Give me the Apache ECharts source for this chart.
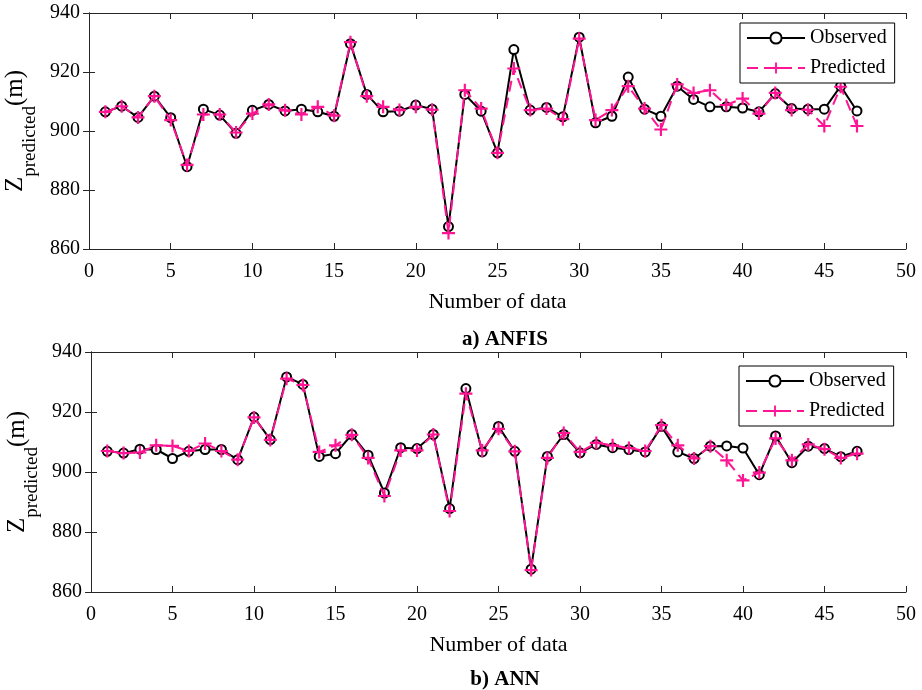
<!DOCTYPE html>
<html>
<head>
<meta charset="utf-8">
<script src="https://cdn.jsdelivr.net/npm/echarts@6/dist/echarts.min.js"></script>
<style>
  html, body { margin: 0; padding: 0; background: #fff; }
  #chart { width: 922px; height: 690px; }
</style>
</head>
<body>
<div id="chart"></div>
<script>
// Sample index 1..47
const sampleIndex = Array.from({ length: 47 }, (_, i) => i + 1);

// a) ANFIS
const anfisObserved = [
  906.5, 908.4, 904.6, 911.8, 904.5, 887.9, 907.4, 905.4, 899.2, 907.0,
  909.0, 906.8, 907.4, 906.5, 905.0, 929.6, 912.4, 906.5, 906.7, 908.8,
  907.4, 867.6, 912.4, 906.7, 892.6, 927.6, 907.1, 908.0, 904.8, 931.8,
  902.8, 905.0, 918.3, 907.4, 905.0, 915.2, 910.7, 908.2, 908.2, 907.8,
  906.5, 912.7, 907.6, 907.4, 907.4, 915.2, 906.8
];
const anfisPredicted = [
  906.5, 908.4, 904.6, 911.8, 903.7, 888.5, 905.6, 905.6, 899.5, 905.9,
  909.0, 907.0, 905.6, 908.2, 905.2, 930.1, 911.8, 908.2, 907.1, 908.2,
  907.2, 865.4, 913.8, 907.6, 892.6, 921.2, 907.1, 907.6, 904.0, 931.3,
  903.7, 907.1, 915.2, 907.6, 900.5, 915.8, 912.9, 913.8, 908.8, 911.0,
  905.9, 912.9, 907.1, 907.2, 901.7, 915.0, 901.7
];

// b) ANN
const annObserved = [
  906.9, 906.3, 907.6, 907.5, 904.5, 906.9, 907.5, 907.5, 904.1, 918.3,
  910.8, 931.7, 929.2, 905.2, 906.1, 912.5, 905.6, 893.0, 908.1, 907.8,
  912.5, 887.8, 927.8, 906.7, 915.2, 906.9, 867.6, 905.2, 912.5, 906.4,
  909.2, 908.1, 907.5, 906.7, 915.2, 906.7, 904.5, 908.6, 908.7, 908.0,
  899.1, 912.0, 903.1, 908.6, 907.8, 905.1, 906.9
];
const annPredicted = [
  907.0, 906.3, 906.5, 908.9, 908.7, 907.0, 909.5, 907.0, 904.1, 918.2,
  910.7, 931.1, 929.0, 906.7, 908.9, 912.4, 904.7, 892.0, 907.2, 907.2,
  912.5, 887.0, 926.1, 907.2, 914.4, 906.9, 867.3, 904.7, 913.0, 906.7,
  909.7, 908.9, 908.0, 907.0, 915.6, 908.9, 904.5, 908.6, 903.9, 897.2,
  899.8, 911.2, 903.9, 909.2, 907.6, 904.7, 906.1
];

// Axis ranges and captions
const xTicks = { min: 0, max: 50, interval: 5 };
const yTicks = { min: 860, max: 940, interval: 20 };
const xTitle = 'Number of data';
const panelTitles = ['a) ANFIS', 'b) ANN'];
const seriesNames = ['Observed', 'Predicted'];

const FONT = '"Liberation Serif", "Times New Roman", serif';
const PINK = '#ff1493';
const PLUS = 'path://M5,0H7V5H12V7H7V12H5V7H0V5H5Z';

const pairs = vals => vals.map((v, i) => [sampleIndex[i], v]);

const grids = [
  { left: 89, top: 13, width: 817, height: 236, containLabel: false, outerBoundsMode: 'none' },
  { left: 91, top: 352, width: 815, height: 240, containLabel: false, outerBoundsMode: 'none' }
];

const axisLineStyle = { show: true, lineStyle: { color: '#262626', width: 1 } };
const tickStyle = { show: true, inside: true, length: 6, lineStyle: { color: '#262626' } };

const xAxes = [], yAxes = [], series = [], legends = [], titles = [];

grids.forEach((g, gi) => {
  // bottom x axis with labels
  xAxes.push({
    type: 'value', gridIndex: gi, position: 'bottom',
    min: xTicks.min, max: xTicks.max, interval: xTicks.interval,
    axisLine: axisLineStyle, axisTick: tickStyle,
    splitLine: { show: false },
    axisLabel: { color: '#000', fontFamily: FONT, fontSize: 20, margin: 13 },
    name: xTitle, nameLocation: 'middle', nameGap: 42,
    nameTextStyle: { color: '#000', fontFamily: FONT, fontSize: 22 }
  });
  // top frame edge with ticks
  xAxes.push({
    type: 'value', gridIndex: gi, position: 'top',
    min: xTicks.min, max: xTicks.max, interval: xTicks.interval,
    axisLine: axisLineStyle, axisTick: tickStyle,
    splitLine: { show: false }, axisLabel: { show: false }
  });
  // left y axis with labels
  yAxes.push({
    type: 'value', gridIndex: gi, position: 'left',
    min: yTicks.min, max: yTicks.max, interval: yTicks.interval,
    axisLine: axisLineStyle, axisTick: tickStyle,
    splitLine: { show: false },
    axisLabel: { color: '#000', fontFamily: FONT, fontSize: 20, margin: 9 },
    name: '{z|Z}{s|predicted}{m|(m)}',
    nameLocation: 'middle', nameGap: 45, nameRotate: 90,
    nameTextStyle: {
      color: '#000', fontFamily: FONT,
      rich: {
        z: { fontFamily: FONT, fontSize: 25, color: '#000', lineHeight: 36, verticalAlign: 'top' },
        s: { fontFamily: FONT, fontSize: 19, color: '#000', lineHeight: 36, verticalAlign: 'bottom', padding: [14, 0, 0, 0] },
        m: { fontFamily: FONT, fontSize: 25, color: '#000', lineHeight: 36, verticalAlign: 'top' }
      }
    }
  });
  // right frame edge with ticks
  yAxes.push({
    type: 'value', gridIndex: gi, position: 'right',
    min: yTicks.min, max: yTicks.max, interval: yTicks.interval,
    axisLine: axisLineStyle, axisTick: tickStyle,
    splitLine: { show: false }, axisLabel: { show: false }
  });

  const obs = gi === 0 ? anfisObserved : annObserved;
  const pred = gi === 0 ? anfisPredicted : annPredicted;
  series.push({
    name: seriesNames[0], type: 'line',
    xAxisIndex: gi * 2, yAxisIndex: gi * 2,
    data: pairs(obs),
    symbol: 'emptyCircle', symbolSize: 9, showAllSymbol: true,
    lineStyle: { color: '#000', width: 2 },
    itemStyle: { color: '#000', borderColor: '#000', borderWidth: 1.6 },
    animation: false, z: 2
  });
  series.push({
    name: seriesNames[1], type: 'line',
    xAxisIndex: gi * 2, yAxisIndex: gi * 2,
    data: pairs(pred),
    symbol: PLUS, symbolSize: 13, showAllSymbol: true,
    lineStyle: { color: PINK, width: 2, type: [11, 6] },
    itemStyle: { color: PINK, borderWidth: 0 },
    animation: false, z: 3
  });

  legends.push({
    data: seriesNames,
    orient: 'vertical',
    left: gi === 0 ? 740 : 739,
    top: gi === 0 ? 23 : 366,
    backgroundColor: '#fff',
    borderColor: '#000', borderWidth: 1,
    padding: [5, 8, 5, 6],
    itemWidth: 58, itemHeight: 14, itemGap: 10,
    selectedMode: false,
    textStyle: { color: '#000', fontFamily: FONT, fontSize: 20 }
  });

  titles.push({
    text: panelTitles[gi],
    left: 500, textAlign: 'center',
    top: gi === 0 ? 324 : 664,
    textStyle: { color: '#000', fontFamily: FONT, fontSize: 21, fontWeight: 'bold' }
  });
});

const chart = echarts.init(document.getElementById('chart'), null, { renderer: 'canvas' });
chart.setOption({
  backgroundColor: '#fff',
  animation: false,
  title: titles,
  legend: legends,
  grid: grids,
  xAxis: xAxes,
  yAxis: yAxes,
  series: series
});
</script>
</body>
</html>
